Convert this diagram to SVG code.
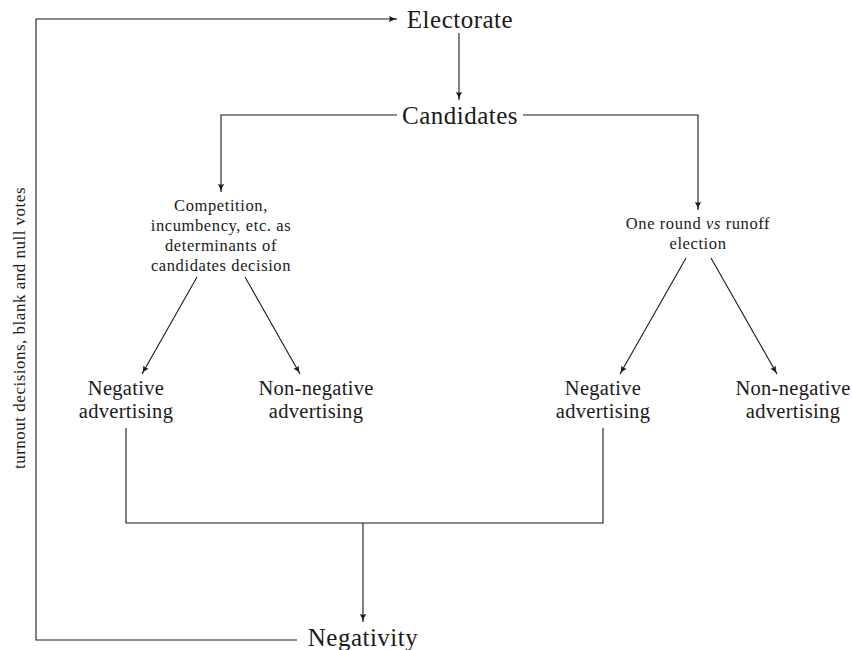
<svg xmlns="http://www.w3.org/2000/svg" width="852" height="650" viewBox="0 0 852 650">
<style>
text{font-family:"Liberation Serif","DejaVu Serif",serif;fill:#1a1a1a;text-anchor:middle}
.big{font-size:25px;letter-spacing:0.5px}
.mid{font-size:20.5px;letter-spacing:0.3px}
.sm{font-size:16.5px;letter-spacing:0.6px}
.side{font-size:17px;letter-spacing:0.5px}
.c{fill:none;stroke:#1a1a1a;stroke-width:1.1}
</style>
<defs>
<marker id="ah" viewBox="0 0 10 8" refX="10" refY="4" markerWidth="8" markerHeight="6.4" orient="auto" markerUnits="userSpaceOnUse">
<path d="M0,0 Q4,3 10,4 Q4,5 0,8 Q2,4 0,0Z" fill="#1a1a1a"/>
</marker>
</defs>
<rect width="852" height="650" fill="#fff"/>
<g id="connectors">
<path class="c" d="M297,640 H36 V19 H397" marker-end="url(#ah)"/>
<path class="c" d="M459,33 V100" marker-end="url(#ah)"/>
<path class="c" d="M397,115 H221 V192" marker-end="url(#ah)"/>
<path class="c" d="M523,115 H698 V210" marker-end="url(#ah)"/>
<path class="c" d="M197,277 L142,374" marker-end="url(#ah)"/>
<path class="c" d="M245,277 L300,374" marker-end="url(#ah)"/>
<path class="c" d="M686,258 L620,374" marker-end="url(#ah)"/>
<path class="c" d="M711,258 L777,374" marker-end="url(#ah)"/>
<path class="c" d="M126,428 V523 H603 V428"/>
<path class="c" d="M363,523 V622" marker-end="url(#ah)"/>
</g>
<g id="electorate"><text class="big" x="460" y="28">Electorate</text></g>
<g id="candidates"><text class="big" x="460" y="124">Candidates</text></g>
<g id="competition">
<text class="sm" x="221" y="211">Competition,</text>
<text class="sm" x="221" y="231">incumbency, etc.  as</text>
<text class="sm" x="221" y="251">determinants of</text>
<text class="sm" x="221" y="271">candidates decision</text>
</g>
<g id="oneround">
<text class="sm" x="698" y="229">One round <tspan font-style="italic">vs</tspan> runoff</text>
<text class="sm" x="698" y="249">election</text>
</g>
<g id="neg1"><text class="mid" x="126" y="395">Negative</text><text class="mid" x="126" y="418">advertising</text></g>
<g id="nonneg1"><text class="mid" x="316" y="395">Non-negative</text><text class="mid" x="316" y="418">advertising</text></g>
<g id="neg2"><text class="mid" x="603" y="395">Negative</text><text class="mid" x="603" y="418">advertising</text></g>
<g id="nonneg2"><text class="mid" x="793" y="395">Non-negative</text><text class="mid" x="793" y="418">advertising</text></g>
<g id="negativity"><text class="big" x="363" y="646">Negativity</text></g>
<g id="feedback-label"><text class="side" transform="translate(25,328) rotate(-90)">turnout decisions, blank and null votes</text></g>
</svg>
